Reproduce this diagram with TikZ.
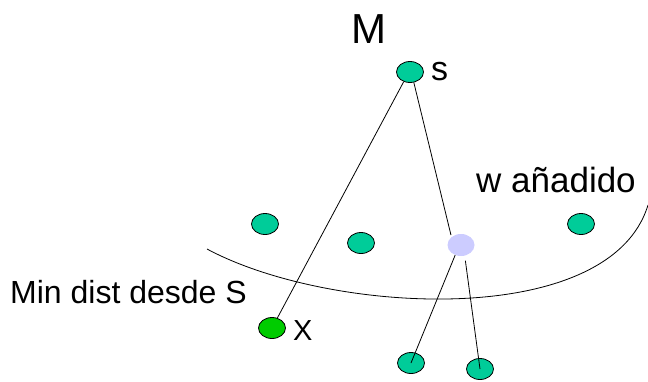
\documentclass[tikz,border=0pt]{standalone}
\usepackage{fontspec}
\setmainfont{Liberation Sans}
\usetikzlibrary{shapes.geometric}
\definecolor{nodeteal}{HTML}{00CC99}
\definecolor{nodegreen}{HTML}{00CC00}
\definecolor{nodelav}{HTML}{CCCCFF}
\begin{document}
\begin{tikzpicture}[x=1pt,y=-1pt,
  vert/.style={ellipse, draw=black, line width=0.8pt, fill=nodeteal, minimum width=27pt, minimum height=21pt, inner sep=0pt},
  edge/.style={draw=black, line width=0.8pt},
  lbl/.style={inner sep=0pt}]
\useasboundingbox (0,0) rectangle (648,381);
% curve
\draw[line width=0.8pt] (207,249) .. controls (330,315) and (610,330) .. (648,205);
% nodes
\node[vert] (s) at (410,72) {};
\node[vert] (a) at (265,224) {};
\node[vert] (b) at (361,243) {};
\node[vert] (c) at (581,224) {};
\node[ellipse, fill=nodelav, minimum width=27pt, minimum height=22pt, inner sep=0pt] (w) at (461,245) {};
\node[vert, fill=nodegreen] (x) at (272,328) {};
\node[vert] (d) at (411,363) {};
\node[vert] (e) at (480,369) {};
% edges
\draw[edge] (s.237) -- (x);
\draw[edge, shorten >=2pt] (s.-70) -- (w.140);
\draw[edge] (w.240) -- (d.center);
\draw[edge, shorten <=5pt] (w.-71) -- (e.center);
% labels
\node[lbl, anchor=base, font=\fontsize{42}{50}\selectfont] (M) at (369,43) {M};
\node[lbl, anchor=base west, font=\fontsize{34}{40}\selectfont] (sl) at (431,80) {s};
\node[lbl, anchor=base west, font=\fontsize{35}{42}\selectfont] (wl) at (476,192) {w añadido};
\node[lbl, anchor=base west, font=\fontsize{32}{38}\selectfont] (ml) at (10,303) {Min dist desde S};
\node[lbl, anchor=base west, font=\fontsize{29}{34}\selectfont] (xl) at (293,340) {X};
\end{tikzpicture}
\end{document}
